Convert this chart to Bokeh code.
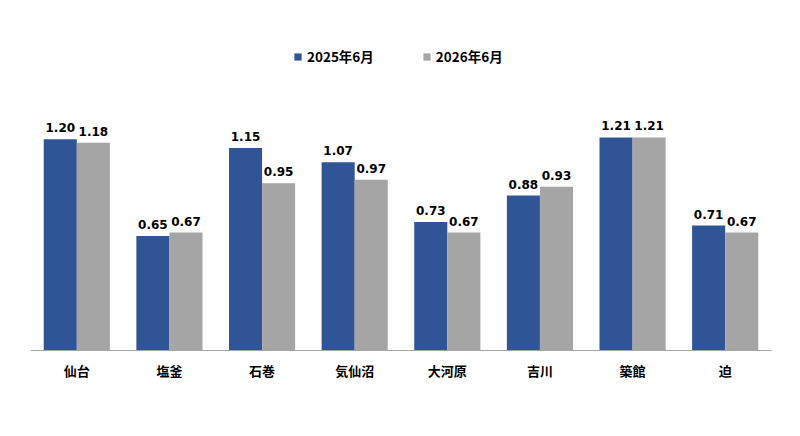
from bokeh.plotting import figure
from bokeh.models import ColumnDataSource, Legend, LegendItem, Range1d
from bokeh.transform import dodge
from bokeh.core.properties import value
from bokeh.embed import file_html
from bokeh.resources import INLINE

categories = ["仙台", "塩釜", "石巻", "気仙沼", "大河原", "吉川", "築館", "迫"]
series_2025 = [1.20, 0.65, 1.15, 1.07, 0.73, 0.88, 1.21, 0.71]
series_2026 = [1.18, 0.67, 0.95, 0.97, 0.67, 0.93, 1.21, 0.67]
series_names = ["2025年6月", "2026年6月"]

src = ColumnDataSource(dict(
    cat=categories,
    a=series_2025,
    b=series_2026,
    al=[f"{v:.2f}" for v in series_2025],
    bl=[f"{v:.2f}" for v in series_2026],
))

p = figure(x_range=categories, width=784, height=420,
           output_backend="svg", toolbar_location=None,
           min_border_left=30, min_border_right=13,
           min_border_top=18, min_border_bottom=70)
p.y_range = Range1d(0, 1.886)

W = 0.357
blue = "#2F5597"
gray = "#A5A5A5"
r1 = p.vbar(x=dodge("cat", -W / 2, range=p.x_range), top="a", width=W,
            source=src, fill_color=blue, line_color=None)
r2 = p.vbar(x=dodge("cat", W / 2, range=p.x_range), top="b", width=W,
            source=src, fill_color=gray, line_color=None)

for col, lab, off in (("a", "al", -W / 2), ("b", "bl", W / 2)):
    p.text(x=dodge("cat", off, range=p.x_range), y=col, text=lab, source=src,
           text_align="center", text_baseline="bottom", y_offset=-7,
           text_font=value("DejaVu Sans"), text_font_style="bold",
           text_font_size="12px", text_color="#000000")

legend = Legend(items=[LegendItem(label=series_names[0], renderers=[r1]),
                       LegendItem(label=series_names[1], renderers=[r2])],
                orientation="horizontal", location=(263, 284),
                glyph_width=9, glyph_height=9, spacing=48,
                label_standoff=5, padding=0, margin=0,
                border_line_color=None, background_fill_alpha=0,
                label_text_font="Noto Sans CJK JP", label_text_font_style="bold",
                label_text_font_size="13.5px", label_text_color="#000000")
p.add_layout(legend, "center")

p.yaxis.visible = False
p.xgrid.grid_line_color = None
p.ygrid.grid_line_color = None
p.outline_line_color = None
p.xaxis.axis_line_color = "#A6A6A6"
p.xaxis.major_tick_line_color = None
p.xaxis.minor_tick_line_color = None
p.xaxis.major_label_standoff = 4
p.xaxis.major_label_text_font = "Noto Sans CJK JP"
p.xaxis.major_label_text_font_style = "bold"
p.xaxis.major_label_text_font_size = "13px"
p.xaxis.major_label_text_color = "#000000"
p.x_range.range_padding = 0

open("out.html", "w").write(file_html(p, INLINE))
